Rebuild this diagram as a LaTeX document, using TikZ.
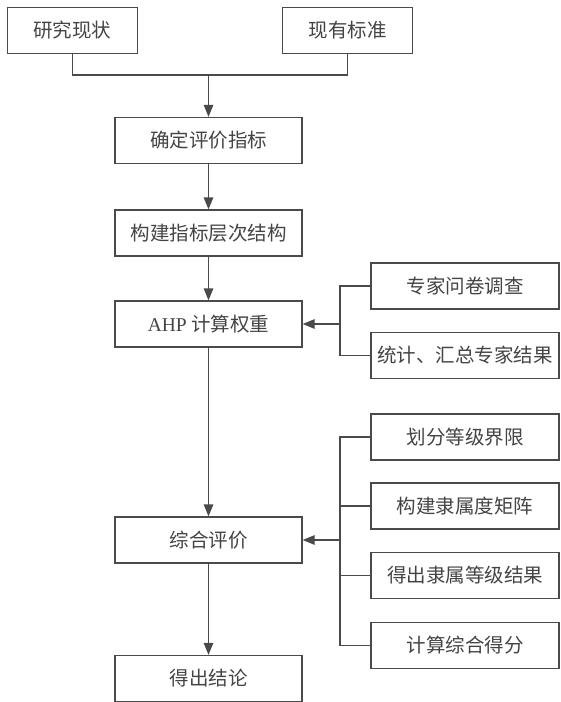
\documentclass[tikz,border=0pt]{standalone}
\usepackage{fontspec}
\newfontfamily\cjk{Noto Sans CJK SC}
\newfontfamily\lat{Liberation Serif}
\usetikzlibrary{arrows.meta}
\definecolor{linec}{HTML}{4A4A4A}
\definecolor{textc}{HTML}{444444}
\tikzset{
  box/.style={draw=linec, line width=1.3pt, fill=white, inner sep=0pt,
    minimum height=46pt, text=textc, font=\cjk\fontsize{19.5}{21}\selectfont},
  leftbox/.style={box, minimum width=187pt},
  topbox/.style={box, minimum width=130pt},
  rightbox/.style={box, minimum width=188pt},
  conn/.style={draw=linec, line width=1.3pt},
  arr/.style={conn, -{Triangle[length=12pt,width=9.5pt]}}
}
\begin{document}
\begin{tikzpicture}[x=1pt,y=-1pt]
\useasboundingbox (0,0) rectangle (560,702);
\fill[white] (0,0) rectangle (560,702);
% top boxes
\node[topbox] (yj) at (72.5,30.5) {研究现状};
\node[topbox] (xy) at (347.5,30.5) {现有标准};
% left column
\node[leftbox] (qd) at (208.5,140.5) {确定评价指标};
\node[leftbox] (gj) at (208.5,233) {构建指标层次结构};
\node[leftbox] (ahp) at (208.5,324) {{\lat AHP} 计算权重};
\node[leftbox] (zh) at (208.5,540) {综合评价};
\node[leftbox] (jl) at (208.5,678.5) {得出结论};
% right boxes
\node[rightbox] (zj) at (465,286) {专家问卷调查};
\node[rightbox] (tj) at (465,355.5) {统计、汇总专家结果};
\node[rightbox] (hf) at (465,437) {划分等级界限};
\node[rightbox] (jz) at (465,506) {构建隶属度矩阵};
\node[rightbox] (dj) at (465,575.5) {得出隶属等级结果};
\node[rightbox] (df) at (465,645.5) {计算综合得分};
% connectors
\coordinate (j1) at (208.5,75);
\coordinate (b1) at (340,324);
\coordinate (b2) at (340,540);
\draw[conn] (yj.south) |- (j1);
\draw[conn] (xy.south) |- (j1);
\draw[arr] (j1) -- (qd.north);
\draw[arr] (qd.south) -- (gj.north);
\draw[arr] (gj.south) -- (ahp.north);
\draw[arr] (ahp.south) -- (zh.north);
\draw[arr] (zh.south) -- (jl.north);
\draw[conn] (zj.west) -| (b1);
\draw[conn] (tj.west) -| (b1);
\draw[arr] (b1) -- (ahp.east);
\draw[conn] (hf.west) -| (b2);
\draw[conn] (jz.west) -| (b2);
\draw[conn] (dj.west) -| (b2);
\draw[conn] (df.west) -| (b2);
\draw[arr] (b2) -- (zh.east);
\end{tikzpicture}
\end{document}
